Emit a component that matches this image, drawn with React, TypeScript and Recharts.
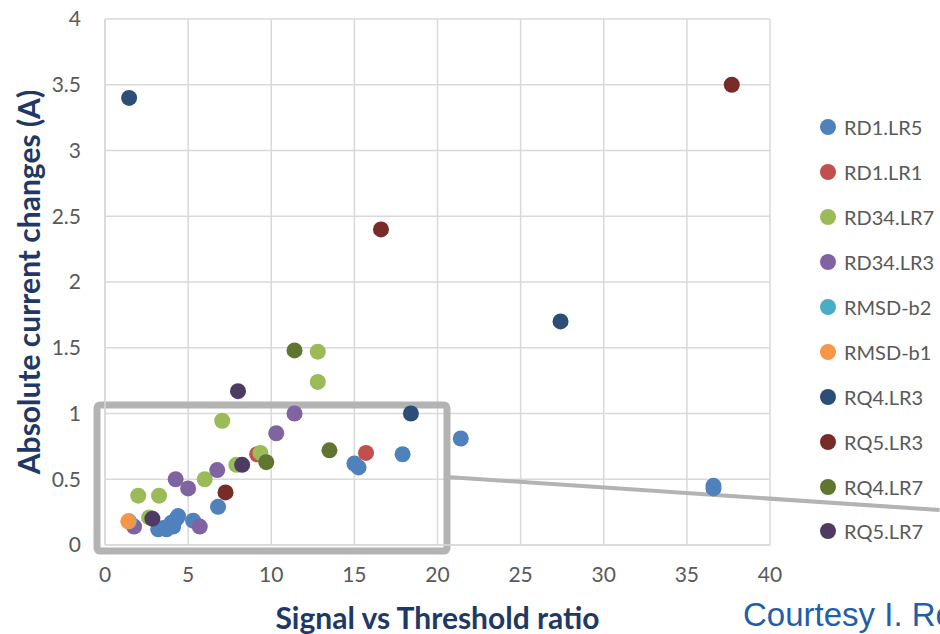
import {
  CartesianGrid,
  Label,
  Legend,
  ReferenceArea,
  ReferenceLine,
  Scatter,
  ScatterChart,
  XAxis,
  YAxis
} from "recharts";

type Pt = { x: number; y: number };

const xTicks = [0, 5, 10, 15, 20, 25, 30, 35, 40];
const yTicks = [0, 0.5, 1, 1.5, 2, 2.5, 3, 3.5, 4];

const rd1lr5: Pt[] = [
  { x: 3.2, y: 0.12 }, { x: 3.5, y: 0.13 }, { x: 3.7, y: 0.12 }, { x: 4.0, y: 0.17 },
  { x: 4.1, y: 0.14 }, { x: 4.3, y: 0.2 }, { x: 4.4, y: 0.22 }, { x: 5.3, y: 0.185 },
  { x: 6.8, y: 0.29 }, { x: 15.0, y: 0.62 }, { x: 15.25, y: 0.59 }, { x: 17.9, y: 0.69 },
  { x: 21.4, y: 0.81 }, { x: 36.6, y: 0.45 }, { x: 36.6, y: 0.43 }
];
const rd1lr1: Pt[] = [{ x: 9.15, y: 0.69 }, { x: 15.7, y: 0.7 }];
const rd34lr7: Pt[] = [
  { x: 2.0, y: 0.375 }, { x: 2.65, y: 0.21 }, { x: 3.25, y: 0.375 }, { x: 6.0, y: 0.5 },
  { x: 7.05, y: 0.945 }, { x: 7.9, y: 0.61 }, { x: 9.35, y: 0.7 }, { x: 12.8, y: 1.47 },
  { x: 12.8, y: 1.24 }
];
const rd34lr3: Pt[] = [
  { x: 1.75, y: 0.14 }, { x: 4.25, y: 0.5 }, { x: 5.0, y: 0.43 }, { x: 5.7, y: 0.14 },
  { x: 6.75, y: 0.57 }, { x: 10.3, y: 0.85 }, { x: 11.4, y: 1.0 }
];
const rmsdb2: Pt[] = [{ x: 1.45, y: 0.18 }];
const rmsdb1: Pt[] = [{ x: 1.4, y: 0.18 }];
const rq4lr3: Pt[] = [{ x: 1.45, y: 3.4 }, { x: 18.4, y: 1.0 }, { x: 27.4, y: 1.7 }];
const rq5lr3: Pt[] = [{ x: 7.25, y: 0.4 }, { x: 16.6, y: 2.4 }, { x: 37.7, y: 3.5 }];
const rq4lr7: Pt[] = [{ x: 9.7, y: 0.63 }, { x: 11.4, y: 1.48 }, { x: 13.5, y: 0.72 }];
const rq5lr7: Pt[] = [{ x: 2.85, y: 0.2 }, { x: 8.0, y: 1.17 }, { x: 8.25, y: 0.61 }];

const series = [
  { name: "RD1.LR5", data: rd1lr5, color: "#4F81BD" },
  { name: "RD1.LR1", data: rd1lr1, color: "#C0504D" },
  { name: "RD34.LR7", data: rd34lr7, color: "#9BBB59" },
  { name: "RD34.LR3", data: rd34lr3, color: "#8064A2" },
  { name: "RMSD-b2", data: rmsdb2, color: "#4BACC6" },
  { name: "RMSD-b1", data: rmsdb1, color: "#F79646" },
  { name: "RQ4.LR3", data: rq4lr3, color: "#2C4D75" },
  { name: "RQ5.LR3", data: rq5lr3, color: "#772C2A" },
  { name: "RQ4.LR7", data: rq4lr7, color: "#5F7530" },
  { name: "RQ5.LR7", data: rq5lr7, color: "#4D3B62" }
];
const order = series.map((s) => s.name);

const font = "Lato, 'Open Sans', sans-serif";
const tickStyle = { fontSize: 21, fill: "#595959", fontFamily: font };
const titleColor = "#1F3864";

function Dot(props: any) {
  const { cx, cy, fill } = props;
  if (cx == null || cy == null) return null;
  return <circle cx={cx} cy={cy} r={8} fill={fill} />;
}

function LegendBox(props: any) {
  // recharts sorts legend entries by name; put them back in series order
  const items = [...(props.payload || [])].sort(
    (a: any, b: any) => order.indexOf(a.value) - order.indexOf(b.value)
  );
  return (
    <div style={{ fontFamily: font }}>
      {items.map((it: any) => (
        <div key={it.value} style={{ height: 44.9, display: "flex", alignItems: "center" }}>
          <svg width={20} height={20} style={{ marginRight: 6 }}>
            <circle cx={10} cy={10} r={8} fill={it.color} />
          </svg>
          <span style={{ fontSize: 20, color: "#595959" }}>{it.value}</span>
        </div>
      ))}
    </div>
  );
}

export default function App() {
  return (
    <div
      style={{
        position: "absolute",
        left: 0,
        top: 0,
        width: 940,
        height: 634,
        overflow: "hidden",
        background: "#fff"
      }}
    >
      {/* legend width (122) is added to the right offset by recharts */}
      <ScatterChart width={940} height={634} margin={{ top: 19, right: 48, bottom: 0, left: 0 }}>
        <CartesianGrid stroke="#D9D9D9" strokeWidth={1.5} />
        <XAxis
          type="number"
          dataKey="x"
          domain={[0, 40]}
          ticks={xTicks}
          height={89}
          tick={tickStyle}
          tickLine={false}
          tickSize={0}
          tickMargin={22}
          axisLine={{ stroke: "#D9D9D9", strokeWidth: 1.5 }}
        >
          <Label
            value="Signal vs Threshold ratio"
            position="insideBottom"
            offset={5}
            style={{ fontSize: 30, fontWeight: 700, fill: titleColor, fontFamily: font }}
          />
        </XAxis>
        <YAxis
          type="number"
          dataKey="y"
          domain={[0, 4]}
          ticks={yTicks}
          width={105}
          tick={tickStyle}
          tickLine={false}
          tickSize={0}
          tickMargin={24}
          axisLine={{ stroke: "#D9D9D9", strokeWidth: 1.5 }}
        >
          <Label
            value="Absolute current changes (A)"
            angle={-90}
            position="insideLeft"
            offset={29}
            style={{ textAnchor: "middle", fontSize: 30, fontWeight: 700, fill: titleColor, fontFamily: font }}
          />
        </YAxis>
        <ReferenceArea
          x1={-0.48}
          x2={20.57}
          y1={-0.046}
          y2={1.065}
          ifOverflow="visible"
          stroke="#B3B3B3"
          strokeWidth={7}
          fill="none"
          radius={3}
        />
        <ReferenceLine
          segment={[{ x: 20.57, y: 0.517 }, { x: 50.2, y: 0.266 }]}
          ifOverflow="visible"
          stroke="#B3B3B3"
          strokeWidth={4}
        />
        {series.map((s) => (
          <Scatter
            key={s.name}
            name={s.name}
            data={s.data}
            fill={s.color}
            shape={<Dot />}
            isAnimationActive={false}
          />
        ))}
        <Legend
          layout="horizontal"
          verticalAlign="middle"
          align="right"
          content={<LegendBox />}
          wrapperStyle={{ left: 818, top: 105, width: 122 }}
        />
      </ScatterChart>
      <div
        style={{
          position: "absolute",
          left: 743,
          top: 598,
          fontFamily: "'Liberation Sans', Arial, sans-serif",
          fontSize: 33,
          lineHeight: 1,
          color: "#1F5FAA",
          whiteSpace: "nowrap"
        }}
      >
        Courtesy I. Ro
      </div>
    </div>
  );
}
